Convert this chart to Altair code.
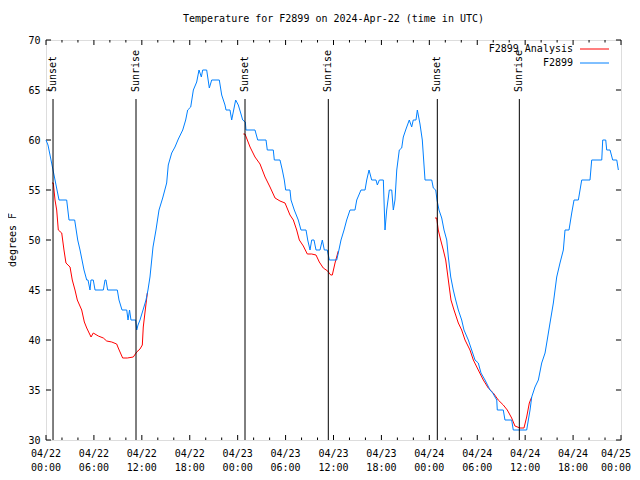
import altair as alt
import pandas as pd

BASE_MS = 1713744000000  # 2024-04-22T00:00:00Z
HOUR_MS = 3600000

# Observed F2899 temperature (hours since 2024-04-22 00:00 UTC, degrees F)
obs_hours = [0.0, 0.25, 0.63, 0.88, 1.13, 1.38, 1.63, 2.59, 2.88, 3.59, 3.97, 4.26, 4.51, 4.76, 5.10,
             5.26, 5.51, 5.63, 5.92, 6.14, 7.18, 7.39, 7.51, 7.72, 8.93, 9.14, 9.52, 10.11, 10.27, 10.46,
             10.64, 11.23, 11.36, 11.52, 11.77, 12.15, 12.52, 12.77, 13.02, 13.40, 13.77, 14.15, 14.61,
             15.11, 15.31, 15.74, 16.15, 16.57, 17.12, 17.49, 17.74, 18.12, 18.45, 18.87, 19.16, 19.45,
             19.62, 20.12, 20.45, 20.75, 21.70, 22.00, 22.41, 22.54, 23.04, 23.25, 23.45, 23.75, 24.08,
             24.38, 24.63, 24.96, 25.04, 26.17, 26.51, 27.55, 27.71, 28.46, 28.59, 29.30, 29.59, 29.84,
             30.01, 30.55, 30.68, 31.09, 31.59, 31.93, 32.56, 32.77, 33.06, 33.27, 33.56, 33.81, 34.31,
             34.60, 34.85, 35.22, 35.48, 36.40, 36.60, 36.94, 37.32, 37.65, 38.07, 38.69, 38.91, 39.44,
             39.95, 40.16, 40.45, 40.78, 41.32, 41.49, 41.74, 42.24, 42.45, 42.66, 42.99, 43.29, 43.49,
             43.70, 43.92, 44.24, 44.54, 44.74, 45.08, 45.49, 45.79, 45.99, 46.33, 46.50, 46.83, 47.12,
             47.46, 48.30, 48.50, 48.80, 48.96, 49.21, 49.55, 49.84, 50.18, 50.38, 50.68, 51.00, 51.30,
             51.63, 52.05, 52.34, 52.88, 53.30, 53.72, 54.13, 54.47, 54.97, 55.60, 55.94, 56.44, 56.51,
             57.26, 57.47, 58.31, 58.51, 60.19, 60.61, 60.82, 61.23, 61.65, 62.07, 62.49, 62.70, 63.11,
             63.53, 63.95, 64.36, 64.78, 64.99, 65.49, 65.83, 66.12, 66.66, 67.08, 68.12, 68.33, 69.59,
             69.71, 70.09, 70.21, 70.63, 70.96, 71.47, 71.67]
obs_temp = [60, 59.5, 58, 57, 56, 55, 54, 54, 52, 52, 50, 49, 48, 47, 46,
            46, 45, 46, 46, 45, 45, 46, 46, 45, 45, 44, 43, 43, 42, 43,
            42, 42, 41, 41.5, 42, 43, 44, 45, 46.3, 49.3, 51, 53, 54.2,
            55.7, 57.5, 58.7, 59.3, 60.1, 61, 62, 63, 63.3, 65, 65.8, 67, 66.3,
            67, 67, 65.2, 66, 66, 64.5, 63.5, 63, 63, 62, 62.8, 64, 63.5,
            62.7, 62, 61.8, 61, 61, 60, 60, 59, 59, 58, 58, 57, 56,
            55, 55, 54, 53, 52, 51, 51, 50, 49, 50, 50, 49, 49,
            50, 49, 49, 48, 48, 48.7, 50, 51, 52, 53, 53, 54, 55,
            55, 56, 57, 56, 56, 55.5, 56, 56, 51, 53, 55, 55, 53,
            54, 57, 59, 59.2, 60.3, 61.1, 62, 61.3, 62, 62, 63, 61.6, 60,
            56, 56, 55.2, 55, 54, 53, 52.2, 51, 50, 48.3, 46.3, 45, 44,
            43, 42, 41, 40, 39, 38, 37.7, 36.7, 36, 35, 34.7, 34, 33,
            33, 32, 32, 31, 31, 33, 34.3, 35.3, 36, 37.7, 38.7, 39.7, 41.7,
            43.7, 46.3, 47.7, 49, 51, 51, 52.7, 54, 54, 56, 56, 58,
            58, 60, 60, 59, 59, 58, 58, 57]

# Analysis (three overnight segments)
ana_hours = [0.75, 0.91, 1.13, 1.34, 1.54, 1.97, 2.25, 2.50, 3.01, 3.29, 3.63, 3.92, 4.47, 4.80, 5.10,
             5.64, 5.92, 6.55, 7.18, 7.60, 8.23, 8.85, 9.05, 9.60, 10.18, 10.93, 11.36, 11.77, 12.06,
             12.18, 12.43, 12.69,
             24.71, 24.92, 25.55, 26.17, 26.80, 27.43, 28.05, 28.68, 29.30, 29.93, 30.55, 30.97, 31.39,
             31.72, 32.22, 32.72, 33.27, 33.81, 34.22, 34.72, 35.27, 35.65, 35.85, 36.19, 36.60,
             48.71, 48.92, 49.12, 49.42, 49.75, 50.05, 50.38, 50.71, 51.09, 51.63, 52.05, 52.47, 53.09,
             53.51, 54.13, 54.76, 55.38, 56.01, 56.63, 57.26, 57.76, 58.31, 58.72, 59.35, 59.85, 60.19,
             60.52, 60.82]
ana_temp = [55.7, 55.7, 54, 53, 51, 50.7, 49, 47.7, 47.3, 46, 45, 44, 43, 41.8, 41.2,
            40.3, 40.7, 40.4, 40.2, 39.9, 39.8, 39.6, 39.2, 38.2, 38.2, 38.3, 38.8, 39.1, 39.5,
            41.3, 43, 44.7,
            60.6, 60.6, 59.3, 58.3, 57.6, 56.3, 55.3, 54.2, 53.9, 53.7, 52.5, 52, 51,
            50, 49.4, 48.6, 48.6, 48.5, 47.8, 47.2, 46.9, 46.5, 46.5, 47.7, 48.9,
            52.2, 52.2, 51, 50, 49, 48, 46, 44, 43, 41.7, 41, 40, 39,
            38, 37, 36, 35.2, 34.7, 34, 33.5, 33, 32.2, 31.4, 31.2, 31.2, 32.3,
            33.7, 34.3]
ana_seg = [1] * 32 + [2] * 25 + [3] * 28

sun_hours = [0.88, 11.27, 24.92, 35.35, 49.0, 59.27]
sun_labels = ["Sunset", "Sunrise", "Sunset", "Sunrise", "Sunset", "Sunrise"]

xtick_hours = [0, 6, 12, 18, 24, 30, 36, 42, 48, 54, 60, 66, 72]
xtick_dates = ["04/22", "04/22", "04/22", "04/22", "04/23", "04/23", "04/23", "04/23",
               "04/24", "04/24", "04/24", "04/24", "04/25"]
xtick_times = ["00:00", "06:00", "12:00", "18:00"] * 3 + ["00:00"]

legend_labels = ["F2899 Analysis", "F2899"]
legend_colors = ["#ff0000", "#0080ff"]

TITLE = "Temperature for F2899 on 2024-Apr-22 (time in UTC)"
YTITLE = "degrees F"
FONT = "DejaVu Sans Mono"

obs = pd.DataFrame({"t": [BASE_MS + h * HOUR_MS for h in obs_hours], "temp": obs_temp})
ana = pd.DataFrame({"t": [BASE_MS + h * HOUR_MS for h in ana_hours], "temp": ana_temp, "seg": ana_seg})
sun = pd.DataFrame({"t": [BASE_MS + h * HOUR_MS for h in sun_hours], "label": sun_labels,
                    "ytop": 64.1, "ybot": 30.0, "ytext": 64.8})
xlab = pd.DataFrame({"t": [BASE_MS + h * HOUR_MS for h in xtick_hours],
                     "d": xtick_dates, "hm": xtick_times})
xlab_main = xlab.iloc[:-1]
xlab_last = xlab.iloc[-1:]

END_MS = BASE_MS + 72 * HOUR_MS
xscale = alt.Scale(domain=[BASE_MS, END_MS], nice=False, zero=False)
yscale = alt.Scale(domain=[30, 70], nice=False, zero=False)

# inward tick marks (gnuplot style)
tick_rows = []
for h in range(0, 73, 2):
    ln = 0.5 if h % 6 == 0 else 0.25
    t = BASE_MS + h * HOUR_MS
    tick_rows.append({"t": t, "t2": t, "y": 30, "y2": 30 + ln})
    tick_rows.append({"t": t, "t2": t, "y": 70, "y2": 70 - ln})
yl = 0.63 * HOUR_MS
for v in range(30, 71, 5):
    tick_rows.append({"t": BASE_MS, "t2": BASE_MS + yl, "y": v, "y2": v})
    tick_rows.append({"t": END_MS, "t2": END_MS - yl, "y": v, "y2": v})
ticks = pd.DataFrame(tick_rows)

y_axis = alt.Axis(
    values=list(range(30, 71, 5)), ticks=False, domain=False, grid=False, title=None,
    labelFont=FONT, labelFontSize=10, labelColor="black", labelPadding=6,
)

X = lambda f: alt.X(f, scale=xscale, axis=None)

tick_layer = alt.Chart(ticks).mark_rule(color="black", strokeWidth=1).encode(
    x=X("t:Q"),
    x2="t2:Q",
    y=alt.Y("y:Q", scale=yscale, axis=y_axis),
    y2="y2:Q",
)

ana_layer = alt.Chart(ana).mark_line(color="#ff0000", strokeWidth=1).encode(
    x=X("t:Q"),
    y=alt.Y("temp:Q", scale=yscale, axis=None),
    detail="seg:N",
)

obs_layer = alt.Chart(obs).mark_line(color="#0080ff", strokeWidth=1).encode(
    x=X("t:Q"),
    y=alt.Y("temp:Q", scale=yscale, axis=None),
)

sun_rules = alt.Chart(sun).mark_rule(color="black", strokeWidth=1).encode(
    x=X("t:Q"),
    y=alt.Y("ytop:Q", scale=yscale, axis=None),
    y2="ybot:Q",
)
sun_text = alt.Chart(sun).mark_text(
    angle=270, align="left", baseline="middle", font=FONT, fontSize=10, color="black"
).encode(
    x=X("t:Q"),
    y=alt.Y("ytext:Q", scale=yscale, axis=None),
    text="label:N",
)


def xlabels(df, field, ypix, dx=0):
    return alt.Chart(df).mark_text(
        baseline="middle", align="center", font=FONT, fontSize=10, color="black", dx=dx
    ).encode(x=X("t:Q"), y=alt.value(ypix), text=f"{field}:N")


xlab_layers = [
    xlabels(xlab_main, "d", 414), xlabels(xlab_main, "hm", 428),
    xlabels(xlab_last, "d", 414, dx=-5), xlabels(xlab_last, "hm", 428, dx=-5),
]

titles = pd.DataFrame({"txt": [TITLE]})
title_mark = alt.Chart(titles).mark_text(
    baseline="middle", align="center", font=FONT, fontSize=10, color="black"
).encode(x=alt.value(287.5), y=alt.value(-21), text="txt:N")
ytitles = pd.DataFrame({"txt": [YTITLE]})
ytitle_mark = alt.Chart(ytitles).mark_text(
    baseline="middle", align="center", angle=270, font=FONT, fontSize=10, color="black"
).encode(x=alt.value(-33), y=alt.value(200), text="txt:N")

leg = pd.DataFrame({"label": legend_labels, "color": legend_colors, "row": [0, 1]})
leg_y = alt.Y("row:Q", axis=None, scale=alt.Scale(domain=[0, 1], range=[9, 23]))
leg_text = alt.Chart(leg).mark_text(
    align="right", baseline="middle", font=FONT, fontSize=10, color="black"
).encode(x=alt.value(527), y=leg_y, text="label:N")
leg_lines = alt.Chart(leg).mark_rule(strokeWidth=1).encode(
    x=alt.value(534), x2=alt.value(563), y=leg_y,
    color=alt.Color("color:N", scale=None, legend=None),
)

chart = alt.layer(
    tick_layer, ana_layer, obs_layer, sun_rules, sun_text, *xlab_layers,
    title_mark, ytitle_mark, leg_lines, leg_text
).resolve_scale(y="independent").properties(
    width=575,
    height=400,
    autosize=alt.AutoSizeParams(type="none"),
    padding={"left": 38, "top": 32, "right": 11, "bottom": 32},
).configure_view(stroke="black", strokeWidth=1).configure(background="white")

chart.save("out.html", embed_options={"renderer": "svg", "actions": False})
